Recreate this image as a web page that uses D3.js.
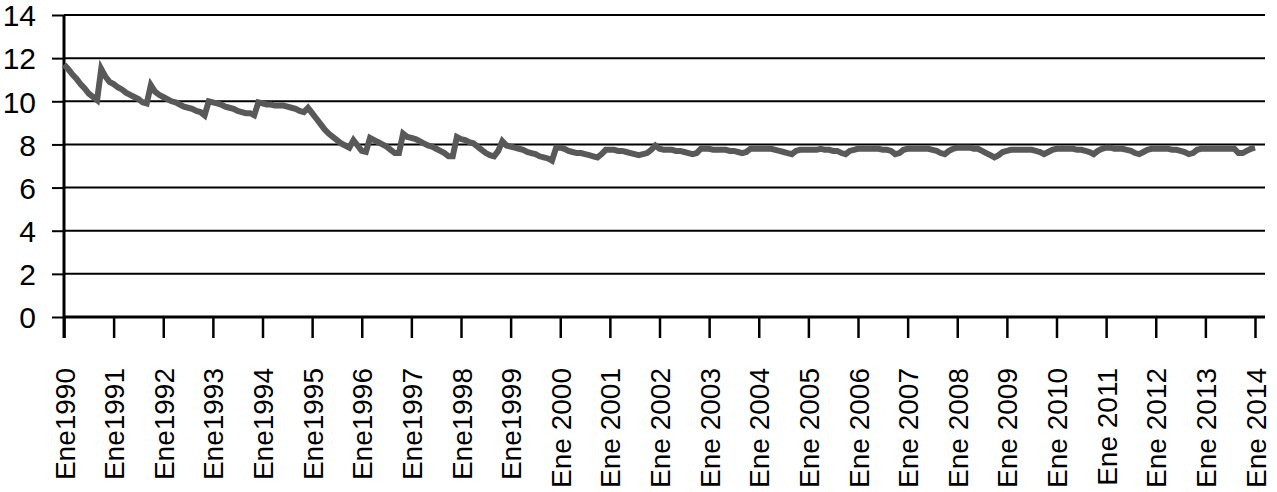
<!DOCTYPE html>
<html>
<head>
<meta charset="utf-8">
<script src="https://cdn.jsdelivr.net/npm/d3@7"></script>
<style>
  body { margin: 0; background: #fff; }
  svg { display: block; font-family: "Liberation Sans", Arial, sans-serif; }
</style>
</head>
<body>
<div id="chart"></div>
<script>
// tick labels on the category axis (one every 12 months)
const tickLabels = [
  'Ene1990', 'Ene1991', 'Ene1992', 'Ene1993', 'Ene1994', 'Ene1995',
  'Ene1996', 'Ene1997', 'Ene1998', 'Ene1999', 'Ene 2000', 'Ene 2001',
  'Ene 2002', 'Ene 2003', 'Ene 2004', 'Ene 2005', 'Ene 2006', 'Ene 2007',
  'Ene 2008', 'Ene 2009', 'Ene 2010', 'Ene 2011', 'Ene 2012', 'Ene 2013',
  'Ene 2014'
]

const yTicks = [0, 2, 4, 6, 8, 10, 12, 14]

// monthly values, Jan 1990 .. Jan 2014
const values = [
  11.7, 11.5, 11.25, 11.05, 10.8, 10.6, 10.35, 10.2, 10.05, 11.5, 11.15, 10.9, // 1990
  10.8, 10.65, 10.55, 10.4, 10.3, 10.2, 10.1, 9.95, 9.9, 10.75, 10.45, 10.3, // 1991
  10.2, 10.1, 10.0, 9.95, 9.85, 9.75, 9.7, 9.65, 9.55, 9.5, 9.35, 10.0, // 1992
  9.95, 9.9, 9.85, 9.75, 9.7, 9.65, 9.55, 9.5, 9.45, 9.45, 9.35, 9.95, // 1993
  9.9, 9.85, 9.85, 9.8, 9.8, 9.8, 9.75, 9.7, 9.65, 9.55, 9.5, 9.7, // 1994
  9.45, 9.2, 8.95, 8.7, 8.5, 8.35, 8.2, 8.05, 7.95, 7.85, 8.2, 7.95, // 1995
  7.7, 7.65, 8.3, 8.2, 8.1, 8.0, 7.9, 7.75, 7.6, 7.6, 8.5, 8.35, // 1996
  8.3, 8.25, 8.15, 8.05, 7.95, 7.9, 7.8, 7.7, 7.6, 7.45, 7.45, 8.35, // 1997
  8.25, 8.2, 8.1, 8.05, 7.9, 7.75, 7.6, 7.5, 7.45, 7.7, 8.15, 7.95, // 1998
  7.9, 7.85, 7.8, 7.75, 7.65, 7.6, 7.55, 7.45, 7.4, 7.35, 7.25, 7.85, // 1999
  7.85, 7.8, 7.7, 7.65, 7.6, 7.6, 7.55, 7.5, 7.45, 7.4, 7.55, 7.75, // 2000
  7.75, 7.75, 7.7, 7.7, 7.65, 7.6, 7.55, 7.5, 7.55, 7.6, 7.75, 7.95, // 2001
  7.8, 7.75, 7.75, 7.75, 7.7, 7.7, 7.65, 7.6, 7.55, 7.6, 7.8, 7.8, // 2002
  7.8, 7.75, 7.75, 7.75, 7.75, 7.7, 7.7, 7.65, 7.6, 7.65, 7.8, 7.8, // 2003
  7.8, 7.8, 7.8, 7.8, 7.75, 7.7, 7.65, 7.6, 7.55, 7.7, 7.75, 7.75, // 2004
  7.75, 7.75, 7.75, 7.8, 7.75, 7.75, 7.7, 7.7, 7.6, 7.55, 7.7, 7.75, // 2005
  7.8, 7.8, 7.8, 7.8, 7.8, 7.8, 7.75, 7.75, 7.7, 7.55, 7.6, 7.75, // 2006
  7.8, 7.8, 7.8, 7.8, 7.8, 7.8, 7.75, 7.7, 7.6, 7.55, 7.7, 7.8, // 2007
  7.85, 7.85, 7.85, 7.85, 7.8, 7.8, 7.7, 7.6, 7.5, 7.4, 7.5, 7.65, // 2008
  7.7, 7.75, 7.75, 7.75, 7.75, 7.75, 7.75, 7.7, 7.65, 7.55, 7.65, 7.75, // 2009
  7.8, 7.8, 7.8, 7.8, 7.8, 7.75, 7.75, 7.7, 7.65, 7.55, 7.7, 7.8, // 2010
  7.85, 7.85, 7.8, 7.8, 7.8, 7.75, 7.7, 7.6, 7.55, 7.65, 7.75, 7.8, // 2011
  7.8, 7.8, 7.8, 7.8, 7.75, 7.75, 7.7, 7.65, 7.55, 7.6, 7.75, 7.8, // 2012
  7.8, 7.8, 7.8, 7.8, 7.8, 7.8, 7.8, 7.8, 7.6, 7.6, 7.7, 7.8, // 2013
  7.85 // 2014
]

const width = 1277
const height = 492
const plotLeft = 64
const plotRight = 1265
const lastTickX = 1255
const plotTop = 15
const plotBottom = 317

const svg = d3.select('#chart')
  .append('svg')
  .attr('width', width)
  .attr('height', height)

const x = d3.scaleLinear().domain([0, values.length - 1]).range([plotLeft, lastTickX])
const y = d3.scaleLinear().domain([0, 14]).range([plotBottom, plotTop])

//horizontal gridlines
svg.append('g')
  .selectAll('line')
  .data(yTicks)
  .enter()
  .append('line')
  .attr('x1', plotLeft)
  .attr('x2', plotRight)
  .attr('y1', d => y(d))
  .attr('y2', d => y(d))
  .attr('stroke', '#000')
  .attr('stroke-width', d => (d === 0 ? 3 : 2))

//y axis
const yAxis = svg.append('g')
  .attr('transform', `translate(${plotLeft},0)`)
  .call(d3.axisLeft(y).tickValues(yTicks).tickSize(12).tickPadding(16))
yAxis.select('.domain').remove()
yAxis.selectAll('line').attr('stroke', '#000').attr('stroke-width', 2)
yAxis.selectAll('text')
  .attr('fill', '#000')
  .style('font-size', '30px')
  .attr('dy', '0.36em')

//x axis
const xTickValues = tickLabels.map((d, i) => i * 12)
const xAxis = svg.append('g')
  .attr('transform', `translate(0,${plotBottom})`)
  .call(
    d3.axisBottom(x)
      .tickValues(xTickValues)
      .tickSize(21)
      .tickSizeOuter(0)
      .tickFormat((d, i) => tickLabels[i])
  )
xAxis.select('.domain').remove()
xAxis.selectAll('line').attr('stroke', '#000').attr('stroke-width', 2.5)
xAxis.selectAll('text')
  .attr('fill', '#000')
  .style('font-size', '28px')
  .attr('text-anchor', 'end')
  .attr('transform', 'rotate(-90)')
  .attr('x', -51)
  .attr('y', 0)
  .attr('dy', '0.36em')

//vertical axis line
svg.append('line')
  .attr('x1', plotLeft)
  .attr('x2', plotLeft)
  .attr('y1', y(14))
  .attr('y2', plotBottom + 21)
  .attr('stroke', '#000')
  .attr('stroke-width', 3)

//the series
const line = d3.line()
  .x((d, i) => x(i))
  .y(d => y(d))

svg.append('path')
  .datum(values)
  .attr('d', line)
  .attr('fill', 'none')
  .attr('stroke', '#595959')
  .attr('stroke-width', 6)
</script>
</body>
</html>
